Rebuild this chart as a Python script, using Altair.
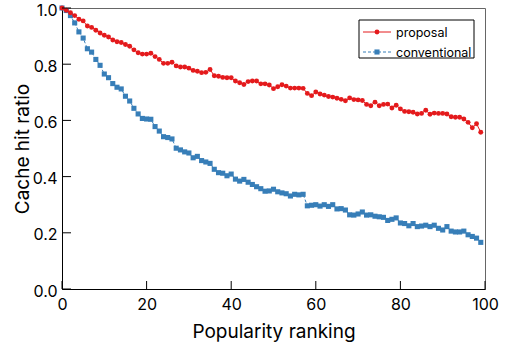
import altair as alt
import pandas as pd

# Popularity ranking positions (0 = most popular)
ranking = list(range(100))

proposal = [
    1.000, 0.992, 0.983, 0.973, 0.960, 0.954, 0.936, 0.931, 0.921, 0.911,
    0.903, 0.897, 0.886, 0.880, 0.877, 0.870, 0.864, 0.851, 0.841, 0.836,
    0.836, 0.839, 0.827, 0.817, 0.803, 0.803, 0.807, 0.794, 0.790, 0.790,
    0.786, 0.778, 0.775, 0.770, 0.771, 0.781, 0.759, 0.757, 0.753, 0.752,
    0.752, 0.740, 0.734, 0.728, 0.738, 0.740, 0.740, 0.730, 0.730, 0.726,
    0.713, 0.720, 0.727, 0.722, 0.715, 0.715, 0.715, 0.714, 0.696, 0.688,
    0.701, 0.694, 0.690, 0.685, 0.683, 0.679, 0.675, 0.670, 0.680, 0.674,
    0.673, 0.671, 0.657, 0.652, 0.665, 0.652, 0.657, 0.658, 0.644, 0.654,
    0.641, 0.632, 0.631, 0.629, 0.623, 0.625, 0.636, 0.622, 0.626, 0.625,
    0.625, 0.623, 0.613, 0.611, 0.611, 0.605, 0.593, 0.574, 0.588, 0.558,
]

conventional = [
    1.000, 0.991, 0.973, 0.947, 0.915, 0.893, 0.855, 0.843, 0.817, 0.796,
    0.765, 0.752, 0.731, 0.718, 0.712, 0.686, 0.669, 0.643, 0.623, 0.607,
    0.605, 0.604, 0.578, 0.562, 0.542, 0.539, 0.534, 0.501, 0.495, 0.488,
    0.484, 0.467, 0.472, 0.457, 0.452, 0.447, 0.426, 0.414, 0.412, 0.403,
    0.409, 0.391, 0.384, 0.390, 0.380, 0.372, 0.364, 0.357, 0.348, 0.349,
    0.355, 0.346, 0.342, 0.339, 0.331, 0.337, 0.335, 0.337, 0.296, 0.298,
    0.300, 0.295, 0.300, 0.294, 0.300, 0.285, 0.286, 0.281, 0.264, 0.263,
    0.267, 0.274, 0.263, 0.264, 0.259, 0.257, 0.255, 0.244, 0.248, 0.253,
    0.235, 0.233, 0.225, 0.233, 0.222, 0.224, 0.227, 0.222, 0.227, 0.216,
    0.210, 0.222, 0.206, 0.203, 0.203, 0.206, 0.193, 0.187, 0.181, 0.166,
]

x_ticks = [0, 20, 40, 60, 80, 100]
y_ticks = [0.0, 0.2, 0.4, 0.6, 0.8, 1.0]

RED = "#E41A1C"
BLUE = "#377EB8"
FONT = "Inter"
W, H = 423, 281

df_p = pd.DataFrame({"rank": ranking, "ratio": proposal})
df_c = pd.DataFrame({"rank": ranking, "ratio": conventional})

x_scale = alt.Scale(domain=[0, 100], nice=False)
y_scale = alt.Scale(domain=[0, 1], nice=False)

x_axis = alt.Axis(
    values=x_ticks, title="Popularity ranking", grid=False, ticks=False,
    domainColor="black", labelPadding=7, labelFontSize=16, labelColor="black",
    labelFlush=False, labelOverlap=False,
    labelFont=FONT, titleFont=FONT, titleFontSize=19, titleFontWeight="normal",
    titleColor="black", titleBaseline="alphabetic", titleY=48,
)
y_axis = alt.Axis(
    values=y_ticks, format=".1f", title="Cache hit ratio", grid=False,
    ticks=False, domainColor="black", labelPadding=5, labelFontSize=16,
    labelFlush=False, labelOverlap=False, labelOffset=2,
    labelColor="black", labelFont=FONT, titleFont=FONT, titleFontSize=19,
    titleFontWeight="normal", titleColor="black", titleBaseline="alphabetic",
    titleX=-34, titleY=H / 2,
)

x_enc = alt.X("rank:Q", scale=x_scale, axis=x_axis)
y_enc = alt.Y("ratio:Q", scale=y_scale, axis=y_axis)

conv_line = alt.Chart(df_c).mark_line(
    color=BLUE, strokeWidth=1, strokeDash=[3, 2]
).encode(x=x_enc, y=y_enc)
conv_pts = alt.Chart(df_c).mark_point(
    shape="square", filled=True, color=BLUE, size=26, opacity=1
).encode(x="rank:Q", y="ratio:Q")

prop_line = alt.Chart(df_p).mark_line(color=RED, strokeWidth=1).encode(
    x="rank:Q", y="ratio:Q"
)
prop_pts = alt.Chart(df_p).mark_point(
    shape="circle", filled=True, color=RED, size=24, opacity=1
).encode(x="rank:Q", y="ratio:Q")

# Inward-pointing tick marks
x_tick_marks = alt.Chart(pd.DataFrame({"t": x_ticks})).mark_rule(
    color="black", strokeWidth=1
).encode(x="t:Q", y=alt.value(H), y2=alt.value(H - 8))
y_tick_marks = alt.Chart(pd.DataFrame({"t": y_ticks})).mark_rule(
    color="black", strokeWidth=1
).encode(y="t:Q", x=alt.value(0), x2=alt.value(9))

# Legend box with line+marker samples
one = pd.DataFrame({"k": [0]})
leg_box = alt.Chart(one).mark_rect(
    fill="white", stroke="black", strokeWidth=1
).encode(x=alt.value(297), x2=alt.value(412), y=alt.value(12), y2=alt.value(50))
leg_l1 = alt.Chart(one).mark_rule(color=RED, strokeWidth=1).encode(
    x=alt.value(301), x2=alt.value(329), y=alt.value(24)
)
leg_p1 = alt.Chart(one).mark_point(
    shape="circle", filled=True, color=RED, size=24, opacity=1
).encode(x=alt.value(315), y=alt.value(24))
leg_t1 = alt.Chart(one).mark_text(
    text="proposal", align="left", baseline="middle", font=FONT, fontSize=12.5,
    color="black",
).encode(x=alt.value(334), y=alt.value(25))
leg_l2 = alt.Chart(one).mark_rule(
    color=BLUE, strokeWidth=1, strokeDash=[3, 2]
).encode(x=alt.value(301), x2=alt.value(329), y=alt.value(44))
leg_p2 = alt.Chart(one).mark_point(
    shape="square", filled=True, color=BLUE, size=26, opacity=1
).encode(x=alt.value(315), y=alt.value(44))
leg_t2 = alt.Chart(one).mark_text(
    text="conventional", align="left", baseline="middle", font=FONT,
    fontSize=12.5, color="black",
).encode(x=alt.value(334), y=alt.value(45))

chart = alt.layer(
    conv_line, conv_pts, prop_line, prop_pts, x_tick_marks, y_tick_marks,
    leg_box, leg_l1, leg_p1, leg_t1, leg_l2, leg_p2, leg_t2,
).properties(
    width=W, height=H,
    autosize=alt.AutoSizeParams(type="none"),
    padding={"left": 62, "top": 8, "right": 21, "bottom": 60},
    background="white",
).configure_view(stroke="#666", strokeWidth=1)

chart.save("out.html", embed_options={"renderer": "svg", "actions": False})
